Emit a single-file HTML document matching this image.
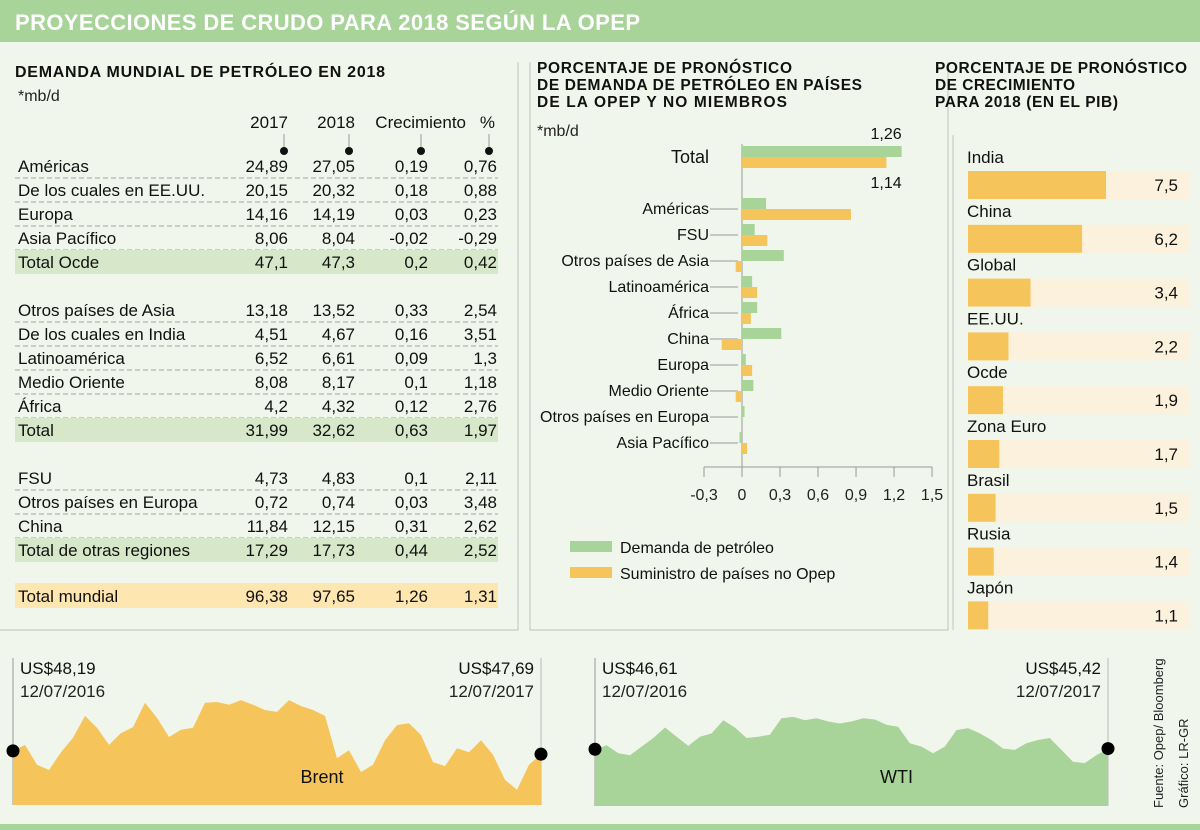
<!DOCTYPE html>
<html><head><meta charset="utf-8"><style>
body{margin:0;background:#f1f6ec}
svg{display:block;font-family:"Liberation Sans Narrow","Liberation Sans",sans-serif}
</style></head><body>
<svg id="s" width="1200" height="830" viewBox="0 0 1200 830" xmlns="http://www.w3.org/2000/svg">
<rect x="0" y="0" width="1200" height="830" fill="#f1f6ec"/>
<rect x="0" y="0" width="1200" height="42" fill="#a8d399"/>
<text x="15" y="30" fill="#fff" font-family="Liberation Sans" font-weight="bold" font-size="22" textLength="625">PROYECCIONES DE CRUDO PARA 2018 SEGÚN LA OPEP</text>
<rect x="0" y="824" width="1200" height="6" fill="#a8d399"/>
<g stroke="#c8cdc4" stroke-width="1.2" fill="none">
<path d="M518 62V630H0"/><path d="M530 62V630H948V62"/><path d="M953 135V630"/>
</g>
<g id="table"></g>
<g id="mid"></g>
<g id="right"></g>
<g id="bottom"></g>
<text transform="translate(1163,808) rotate(-90)" font-size="13" fill="#222">Fuente: Opep/ Bloomberg</text>
<text transform="translate(1188,808) rotate(-90)" font-size="13" fill="#222">Gráfico: LR-GR</text>
</svg>
<script>
const NS="http://www.w3.org/2000/svg";
function mk(p,tag,a,txt){const e=document.createElementNS(NS,tag);for(const k in a)e.setAttribute(k,a[k]);if(txt!==undefined)e.textContent=txt;p.appendChild(e);return e;}

// ---------- TABLE ----------
const tableRows=[
["Américas","24,89","27,05","0,19","0,76",0],
["De los cuales en EE.UU.","20,15","20,32","0,18","0,88",0],
["Europa","14,16","14,19","0,03","0,23",0],
["Asia Pacífico","8,06","8,04","-0,02","-0,29",0],
["Total Ocde","47,1","47,3","0,2","0,42",1],
null,
["Otros países de Asia","13,18","13,52","0,33","2,54",0],
["De los cuales en India","4,51","4,67","0,16","3,51",0],
["Latinoamérica","6,52","6,61","0,09","1,3",0],
["Medio Oriente","8,08","8,17","0,1","1,18",0],
["África","4,2","4,32","0,12","2,76",0],
["Total","31,99","32,62","0,63","1,97",1],
null,
["FSU","4,73","4,83","0,1","2,11",0],
["Otros países en Europa","0,72","0,74","0,03","3,48",0],
["China","11,84","12,15","0,31","2,62",0],
["Total de otras regiones","17,29","17,73","0,44","2,52",1],
null,
["Total mundial","96,38","97,65","1,26","1,31",2]
];
const colHeads=["2017","2018","Crecimiento","%"];
const T=document.getElementById('table');
mk(T,'text',{x:15,y:77,'font-family':'Liberation Sans','font-weight':'bold','font-size':16,textLength:370,fill:'#111',},"DEMANDA MUNDIAL DE PETRÓLEO EN 2018");
mk(T,'text',{x:18,y:101,'font-size':16,fill:'#222',},"*mb/d");
const colX=[288,355,428,496], headX=[288,355,466,495], dotX=[284,349,421,489];
colHeads.forEach((h,i)=>{
  const t=mk(T,'text',{x:headX[i],y:128,'font-size':17,'text-anchor':'end',fill:'#111'},h);
  
  
  mk(T,'line',{x1:dotX[i],y1:134,x2:dotX[i],y2:148,stroke:'#999'});
  mk(T,'circle',{cx:dotX[i],cy:151,r:4,fill:'#111'});
});
let y=166;
tableRows.forEach((r,idx)=>{
  if(!r){y+=24;return;}
  if(r[5]==1) mk(T,'rect',{x:15,y:y-12,width:483,height:24,fill:'#d6e8c9'});
  if(r[5]==2){y-=2; mk(T,'rect',{x:15,y:y-13,width:483,height:25,fill:'#fde6b0'});}
  const g=mk(T,'g',{});
  
  
  mk(g,'text',{x:18,y:y+6,'font-size':17,fill:'#111'},r[0]);
  for(let i=0;i<4;i++) mk(g,'text',{x:colX[i]+(i==3?1:0),y:y+6,'font-size':17,'text-anchor':'end',fill:'#111'},r[i+1]);
  const next=tableRows[idx+1];
  if(r[5]==0 && next) mk(T,'line',{x1:15,y1:y+12,x2:498,y2:y+12,stroke:'#888','stroke-dasharray':'5,3','stroke-width':0.8});
  y+=24;
});

// ---------- MIDDLE CHART ----------
const midCats=["Américas","FSU","Otros países de Asia","Latinoamérica","África","China","Europa","Medio Oriente","Otros países en Europa","Asia Pacífico"];
const midDemand=[0.19,0.10,0.33,0.08,0.12,0.31,0.03,0.09,0.02,-0.02];
const midSupply=[0.86,0.20,-0.05,0.12,0.07,-0.16,0.08,-0.05,0.00,0.04];
const totalDemand=1.26, totalSupply=1.14;
const midTicks=[-0.3,0,0.3,0.6,0.9,1.2,1.5];
const midTickLabels=["-0,3","0","0,3","0,6","0,9","1,2","1,5"];
const M=document.getElementById('mid');
const midTitle=["PORCENTAJE DE PRONÓSTICO","DE DEMANDA DE PETRÓLEO EN PAÍSES","DE LA OPEP Y NO MIEMBROS"];
const midTitleW=[255,325,250];
midTitle.forEach((s,i)=>{
  const t=mk(M,'text',{x:537,y:73+i*17,'font-family':'Liberation Sans','font-weight':'bold','font-size':15.5,textLength:midTitleW[i],fill:'#111'},s);
  
  
});
mk(M,'text',{x:537,y:136,'font-size':16,fill:'#222',},"*mb/d");
const xs=v=>742+v*126.7;
mk(M,'line',{x1:742,y1:144,x2:742,y2:467,stroke:'#999'});
mk(M,'line',{x1:xs(-0.3),y1:467,x2:xs(1.5),y2:467,stroke:'#999'});
midTicks.forEach((v,i)=>{
  mk(M,'line',{x1:xs(v),y1:467,x2:xs(v),y2:477,stroke:'#999'});
  const t=mk(M,'text',{x:xs(v),y:500,'font-size':16,'text-anchor':'middle',fill:'#222'},midTickLabels[i]);
  
  
});
function bar(v,yy,col,name){
  const b=mk(M,'rect',{x:Math.min(xs(0),xs(v)),y:yy,width:Math.abs(xs(v)-xs(0)),height:11,fill:col});
  
  
}
bar(totalDemand,146,'#a8d399','bar-total-demand');
bar(totalSupply,157,'#f5c55c','bar-total-supply');
mk(M,'text',{x:709,y:163,'font-size':18,'text-anchor':'end',fill:'#111',},"Total");
mk(M,'text',{x:xs(totalDemand),y:139,'font-size':16,'text-anchor':'end',fill:'#111',},String(totalDemand).replace('.',','));
mk(M,'text',{x:xs(totalDemand),y:188,'font-size':16,'text-anchor':'end',fill:'#111',},String(totalSupply).replace('.',','));
midCats.forEach((c,i)=>{
  const yy=209+i*26;
  mk(M,'line',{x1:710,y1:yy,x2:738,y2:yy,stroke:'#999'});
  const t=mk(M,'text',{x:709,y:yy+5,'font-size':16,'text-anchor':'end',fill:'#111'},c);
  
  
  bar(midDemand[i],yy-11,'#a8d399','bar-demand');
  bar(midSupply[i],yy,'#f5c55c','bar-supply');
});
mk(M,'rect',{x:570,y:541,width:42,height:11,fill:'#a8d399',});
mk(M,'text',{x:620,y:553,'font-size':16,fill:'#111',},"Demanda de petróleo");
mk(M,'rect',{x:570,y:567,width:42,height:11,fill:'#f5c55c',});
mk(M,'text',{x:620,y:579,'font-size':16,fill:'#111',},"Suministro de países no Opep");

// ---------- RIGHT CHART ----------
const gdpCats=["India","China","Global","EE.UU.","Ocde","Zona Euro","Brasil","Rusia","Japón"];
const gdpVals=[7.5,6.2,3.4,2.2,1.9,1.7,1.5,1.4,1.1];
const R=document.getElementById('right');
const rTitle=["PORCENTAJE DE PRONÓSTICO","DE CRECIMIENTO","PARA 2018 (EN EL PIB)"];
const rTitleW=[252,140,183];
rTitle.forEach((s,i)=>{
  const t=mk(R,'text',{x:935,y:73+i*17,'font-family':'Liberation Sans','font-weight':'bold','font-size':15.5,textLength:rTitleW[i],fill:'#111'},s);
  
  
});
gdpCats.forEach((c,i)=>{
  const yy=171+i*53.8;
  const t=mk(R,'text',{x:967,y:yy-8,'font-size':17,fill:'#111'},c);
  
  
  mk(R,'rect',{x:968,y:yy,width:222,height:28,fill:'#fcf1dc'});
  const b=mk(R,'rect',{x:968,y:yy,width:gdpVals[i]*18.4,height:28,fill:'#f5c55c'});
  
  
  const v=mk(R,'text',{x:1178,y:yy+20,'font-size':17,'text-anchor':'end',fill:'#111'},String(gdpVals[i]).replace('.',','));
  
  
});

// ---------- BOTTOM AREA CHARTS ----------
const brentPrices=[48.2,49.1,46.1,45.3,48.0,50.2,53.5,51.7,49.1,50.9,51.8,55.5,53.2,50.3,51.4,51.7,55.5,55.6,55.2,55.9,55.2,54.4,54.1,55.9,55.0,54.4,53.5,47.1,48.3,45.0,46.1,49.8,52.1,52.4,50.6,46.5,45.9,48.6,48.0,49.8,47.6,43.8,42.3,46.1,47.7];
const wtiPrices=[46.6,47.2,46.0,45.7,47.0,48.3,49.9,48.5,47.1,48.5,49.0,51.0,49.9,48.3,48.5,48.8,51.3,51.5,51.0,51.3,50.8,50.5,50.8,51.3,51.1,50.3,50.0,47.5,47.0,46.0,47.0,49.5,49.8,49.0,48.0,46.7,46.5,47.5,48.0,48.3,46.5,44.7,44.5,45.7,46.7];
const brentLabels=["US$48,19","12/07/2016","US$47,69","12/07/2017"];
const wtiLabels=["US$46,61","12/07/2016","US$45,42","12/07/2017"];
const B=document.getElementById('bottom');
function area(data,x0,x1,bottom,base,col,name,labels,title){
  const ys=v=>bottom-(v-base)*6.6;
  const xp=i=>x0+i*(x1-x0)/(data.length-1);
  mk(B,'line',{x1:x0,y1:658,x2:x0,y2:bottom,stroke:'#999'});
  mk(B,'line',{x1:x1,y1:658,x2:x1,y2:bottom,stroke:'#bbb'});
  let d=`M${x0},${bottom}`;
  data.forEach((v,i)=>{d+=`L${xp(i).toFixed(1)},${ys(v).toFixed(1)}`;});
  d+=`L${x1},${bottom}Z`;
  const p=mk(B,'path',{d:d,fill:col});
  
  
  mk(B,'circle',{cx:x0,cy:ys(data[0]),r:6.5,fill:'#000'});
  mk(B,'circle',{cx:x1,cy:ys(data[data.length-1]),r:6.5,fill:'#000'});
  mk(B,'text',{x:x0+7,y:674,'font-size':17,fill:'#111'},labels[0]);
  mk(B,'text',{x:x0+7,y:697,'font-size':17,fill:'#222'},labels[1]);
  mk(B,'text',{x:x1-7,y:674,'font-size':17,'text-anchor':'end',fill:'#111'},labels[2]);
  mk(B,'text',{x:x1-7,y:697,'font-size':17,'text-anchor':'end',fill:'#222'},labels[3]);
  const t=mk(B,'text',{x:(x0+x1)/2+45,y:783,'font-size':18,'text-anchor':'middle',fill:'#111'},title);
  
  
}
area(brentPrices,13,541,805,40,'#f5c55c','brent-area',brentLabels,"Brent");
area(wtiPrices,595,1108,806,38,'#a8d399','wti-area',wtiLabels,"WTI");
</script>
</body></html>
